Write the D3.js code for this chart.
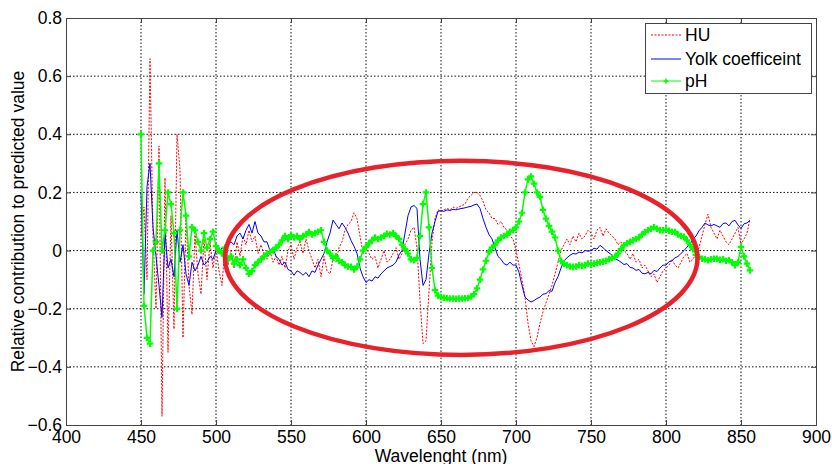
<!DOCTYPE html>
<html>
<head>
<meta charset="utf-8">
<script src="https://cdn.jsdelivr.net/npm/d3@7"></script>
<style>
  html, body { margin: 0; padding: 0; background: #fff; }
  svg text { font-family: "Liberation Sans", Arial, sans-serif; }
</style>
</head>
<body>
<svg id="chart" width="832" height="464"></svg>
<script>
// ---- data ----
const wavelengths = d3.range(450, 857, 2);   // nm, 450..856

const huValues = [
  0.05, 0.15, -0.10, 0.66, 0.05, -0.20, 0.36, -0.57, 0.25, -0.35,
  0.12, -0.27, 0.40, 0.28, -0.30, 0.12, -0.12, -0.22, 0.06, -0.08,
  -0.15, 0.04, -0.10, 0.03, -0.06, 0.01, -0.07, -0.12, 0.02, -0.05,
  0.00, -0.06, 0.03, -0.02, 0.05, 0.02, 0.07, 0.03, 0.05, -0.01,
  0.02, -0.01, -0.03, 0.00, -0.04, -0.02, -0.05, -0.02, -0.06, 0.00,
  0.02, -0.03, 0.01, 0.03, -0.01, 0.04, 0.00, -0.03, -0.06, -0.03,
  -0.09, -0.02, -0.07, -0.08, -0.03, -0.04, 0.01, 0.03, 0.07, 0.09,
  0.10, 0.13, 0.11, 0.05, -0.01, 0.01, -0.01, -0.03, -0.02, -0.06,
  -0.03, 0.00, -0.04, -0.03, -0.01, 0.01, -0.03, -0.01, 0.02, 0.04,
  0.07, 0.08, 0.01, -0.17, -0.32, -0.31, -0.14, 0.03, 0.11, 0.14,
  0.135, 0.14, 0.145, 0.14, 0.15, 0.145, 0.15, 0.155, 0.16, 0.18,
  0.19, 0.20, 0.20, 0.19, 0.17, 0.14, 0.13, 0.11, 0.11, 0.09,
  0.10, 0.08, 0.07, 0.05, 0.04, 0.00, -0.05, -0.10, -0.16, -0.25,
  -0.31, -0.33, -0.30, -0.25, -0.21, -0.18, -0.15, -0.12, -0.08, -0.04,
  0.00, 0.02, 0.04, 0.02, 0.05, 0.03, 0.06, 0.04, 0.05, 0.07,
  0.06, 0.04, 0.07, 0.08, 0.05, 0.075, 0.06, 0.05, 0.04, 0.02,
  0.03, 0.00, -0.01, -0.03, -0.01, -0.04, -0.03, -0.06, -0.05, -0.07,
  -0.09, -0.08, -0.11, -0.09, -0.07, -0.06, -0.05, -0.03, -0.05, -0.06,
  -0.04, -0.02, -0.01, -0.04, -0.03, -0.01, 0.01, 0.05, 0.09, 0.125,
  0.08, 0.06, 0.04, 0.07, 0.05, 0.03, 0.02, 0.04, 0.06, 0.08,
  0.02, 0.04, 0.06, 0.11
];

const yolkValues = [
  0.20, -0.15, 0.22, 0.30, 0.08, -0.02, -0.12, -0.23, 0.06, -0.06,
  -0.03, -0.09, 0.07, -0.04, 0.02, -0.08, -0.12, -0.04, -0.07, -0.05,
  -0.02, -0.05, -0.04, -0.02, -0.03, 0.00, -0.01, 0.01, 0.00, 0.02,
  0.03, 0.02, 0.05, 0.06, 0.04, 0.07, 0.09, 0.06, 0.10, 0.06,
  0.05, 0.03, 0.03, 0.00, 0.01, -0.02, -0.03, -0.05, -0.04, -0.065,
  -0.07, -0.085, -0.07, -0.075, -0.085, -0.075, -0.09, -0.07, -0.075, -0.05,
  -0.03, -0.01, 0.03, 0.06, 0.105, 0.09, 0.075, 0.095, 0.08, 0.06,
  0.035, 0.015, -0.01, -0.06, -0.09, -0.11, -0.10, -0.105, -0.09, -0.095,
  -0.08, -0.07, -0.06, -0.055, -0.05, -0.04, -0.015, 0.00, 0.06, 0.12,
  0.15, 0.155, 0.145, -0.03, -0.12, -0.10, -0.01, 0.06, 0.10, 0.135,
  0.137, 0.135, 0.14, 0.138, 0.142, 0.14, 0.143, 0.145, 0.147, 0.15,
  0.152, 0.157, 0.16, 0.145, 0.11, 0.08, 0.055, 0.04, 0.01, -0.02,
  -0.03, -0.045, -0.05, -0.04, -0.05, -0.05, -0.075, -0.12, -0.16, -0.17,
  -0.177, -0.172, -0.165, -0.16, -0.15, -0.148, -0.138, -0.14, -0.11, -0.09,
  -0.06, -0.035, -0.025, -0.016, -0.01, -0.012, -0.005, -0.008, 0.0, -0.002,
  0.0, 0.008, 0.005, 0.018, 0.01, 0.0, -0.008, -0.015, -0.028, -0.033,
  -0.04, -0.048, -0.045, -0.058, -0.06, -0.068, -0.065, -0.078, -0.08, -0.075,
  -0.08, -0.068, -0.072, -0.06, -0.05, -0.05, -0.038, -0.035, -0.025, -0.02,
  -0.01, 0.0, 0.012, 0.022, 0.04, 0.05, 0.068, 0.08, 0.095, 0.088,
  0.085, 0.09, 0.085, 0.08, 0.093, 0.095, 0.085, 0.1, 0.104, 0.088,
  0.076, 0.092, 0.095, 0.104
];

const phValues = [
  0.40, -0.19, -0.30, -0.32, 0.00, 0.03, 0.30, 0.00, 0.07, 0.20,
  0.16, 0.06, -0.20, 0.07, 0.20, 0.12, -0.02, 0.08, 0.07, 0.03,
  0.00, 0.06, 0.01, 0.04, 0.065, 0.015, 0.00, -0.01, 0.01, -0.03,
  -0.02, -0.045, -0.03, -0.05, -0.03, -0.06, -0.08, -0.07, -0.05, -0.04,
  -0.03, -0.02, -0.01, -0.005, 0.00, 0.01, 0.02, 0.035, 0.05, 0.04,
  0.053, 0.045, 0.05, 0.04, 0.05, 0.055, 0.064, 0.055, 0.06, 0.065,
  0.07, 0.03, 0.00, -0.01, -0.025, -0.02, -0.035, -0.04, -0.05, -0.055,
  -0.056, -0.065, -0.055, -0.03, 0.00, 0.013, 0.025, 0.035, 0.045, 0.04,
  0.045, 0.05, 0.058, 0.055, 0.06, 0.05, 0.04, 0.02, 0.005, -0.01,
  -0.03, -0.033, -0.025, 0.05, 0.16, 0.20, 0.08, -0.06, -0.136, -0.155,
  -0.16, -0.162, -0.164, -0.165, -0.165, -0.166, -0.165, -0.165, -0.164, -0.163,
  -0.158, -0.15, -0.13, -0.10, -0.065, -0.035, -0.005, 0.01, 0.02, 0.035,
  0.045, 0.05, 0.055, 0.065, 0.07, 0.08, 0.10, 0.13, 0.20, 0.245,
  0.255, 0.23, 0.20, 0.185, 0.14, 0.11, 0.085, 0.065, 0.045, 0.00,
  -0.035, -0.045, -0.05, -0.055, -0.056, -0.055, -0.05, -0.052, -0.05, -0.045,
  -0.048, -0.045, -0.042, -0.04, -0.038, -0.035, -0.03, -0.025, -0.022, -0.01,
  0.005, 0.018, 0.025, 0.03, 0.035, 0.04, 0.045, 0.055, 0.064, 0.07,
  0.075, 0.08, 0.075, 0.07, 0.07, 0.072, 0.068, 0.065, 0.064, 0.055,
  0.05, 0.047, 0.035, 0.02, 0.005, -0.015, -0.022, -0.028, -0.03, -0.033,
  -0.03, -0.028, -0.028, -0.032, -0.03, -0.035, -0.033, -0.04, -0.05, -0.04,
  0.013, -0.02, -0.045, -0.068
];

const xTicks = [400, 450, 500, 550, 600, 650, 700, 750, 800, 850, 900];
const yTicks = [-0.6, -0.4, -0.2, 0, 0.2, 0.4, 0.6, 0.8];
const seriesNames = ["HU", "Yolk coefficeint", "pH"];
// highlighted region (ellipse): center and semi-axes in data units
const ellipseCenter = [663.5, -0.025];
const ellipseRadii = [157.5, 0.334];

// ---- layout ----
const svg = d3.select("#chart");
const L = 66, R = 816, T = 18, B = 425;
const x = d3.scaleLinear().domain([400, 900]).range([L, R]);
const y = d3.scaleLinear().domain([-0.6, 0.8]).range([B, T]);
const fontSize = "17.5px";

// grid
const grid = svg.append("g");
xTicks.slice(1, -1).forEach(t => {
  grid.append("line").attr("x1", x(t)).attr("x2", x(t)).attr("y1", T).attr("y2", B)
    .attr("stroke", "#111").attr("stroke-width", 1).attr("stroke-dasharray", "1.5,2");
});
yTicks.slice(1, -1).forEach(t => {
  grid.append("line").attr("x1", L).attr("x2", R).attr("y1", y(t)).attr("y2", y(t))
    .attr("stroke", "#111").attr("stroke-width", 1).attr("stroke-dasharray", "1.5,2");
});

// axes
const fmtY = d => d === 0 ? "0" : d3.format(".1f")(d);
const axB = svg.append("g").attr("transform", `translate(0,${B})`)
  .call(d3.axisBottom(x).tickValues(xTicks).tickSize(-5).tickPadding(6).tickFormat(d3.format("d")));
const axL = svg.append("g").attr("transform", `translate(${L},0)`)
  .call(d3.axisLeft(y).tickValues(yTicks).tickSize(-5).tickPadding(4).tickFormat(fmtY));
const axT = svg.append("g").attr("transform", `translate(0,${T})`)
  .call(d3.axisTop(x).tickValues(xTicks).tickSize(-5).tickFormat(""));
const axR = svg.append("g").attr("transform", `translate(${R},0)`)
  .call(d3.axisRight(y).tickValues(yTicks).tickSize(-5).tickFormat(""));
[axB, axL, axT, axR].forEach(a => {
  a.selectAll("path.domain").attr("stroke", "#444").attr("stroke-width", 1);
  a.selectAll(".tick line").attr("stroke", "#444");
  a.selectAll("text").attr("fill", "#000").style("font-size", fontSize)
    .style("font-family", "'Liberation Sans', Arial, sans-serif");
});

// series
const line = vals => d3.line().x((d, i) => x(wavelengths[i])).y(d => y(d))(vals);
svg.append("path").attr("d", line(huValues)).attr("fill", "none")
  .attr("stroke", "#ff0000").attr("stroke-width", 1).attr("stroke-dasharray", "2,1.5");
svg.append("path").attr("d", line(yolkValues)).attr("fill", "none")
  .attr("stroke", "#0000ff").attr("stroke-width", 1);
svg.append("path").attr("d", line(phValues)).attr("fill", "none")
  .attr("stroke", "#00ff00").attr("stroke-width", 1.5);
const cross = d3.symbol().type(d3.symbolCross).size(24)();
svg.append("g").selectAll("path").data(phValues).join("path")
  .attr("d", cross)
  .attr("transform", (d, i) => `translate(${x(wavelengths[i])},${y(d)})`)
  .attr("fill", "#00ff00");

// highlight ellipse
svg.append("ellipse")
  .attr("cx", x(ellipseCenter[0])).attr("cy", y(ellipseCenter[1]))
  .attr("rx", x(ellipseCenter[0] + ellipseRadii[0]) - x(ellipseCenter[0]))
  .attr("ry", y(ellipseCenter[1]) - y(ellipseCenter[1] + ellipseRadii[1]))
  .attr("fill", "none").attr("stroke", "#e8212a").attr("stroke-width", 4.5);

// axis titles
svg.append("text").attr("x", (L + R) / 2).attr("y", 462).attr("text-anchor", "middle")
  .style("font-size", fontSize).text("Wavelenght (nm)");
svg.append("text").attr("transform", `translate(24,${(T + B) / 2}) rotate(-90)`)
  .attr("text-anchor", "middle").style("font-size", fontSize)
  .text("Relative contribution to predicted value");

// legend
const lg = svg.append("g");
lg.append("rect").attr("x", 645.5).attr("y", 23.5).attr("width", 166).attr("height", 70)
  .attr("fill", "#fff").attr("stroke", "#444").attr("stroke-width", 1);
const rows = [35, 59, 81];
const styles = [
  {c: "#ff0000", dash: "2,1.5"},
  {c: "#0000ff", dash: null},
  {c: "#00ff00", dash: null}
];
seriesNames.forEach((name, i) => {
  lg.append("line").attr("x1", 651).attr("x2", 681).attr("y1", rows[i]).attr("y2", rows[i])
    .attr("stroke", styles[i].c).attr("stroke-width", 1)
    .attr("stroke-dasharray", styles[i].dash);
  if (i === 2) {
    lg.append("path").attr("d", d3.symbol().type(d3.symbolCross).size(13)())
      .attr("transform", `translate(666,${rows[i]})`).attr("fill", "#00ff00");
  }
  lg.append("text").attr("x", 685).attr("y", rows[i]).attr("dy", "0.36em")
    .style("font-size", fontSize).text(name);
});
</script>
</body>
</html>
